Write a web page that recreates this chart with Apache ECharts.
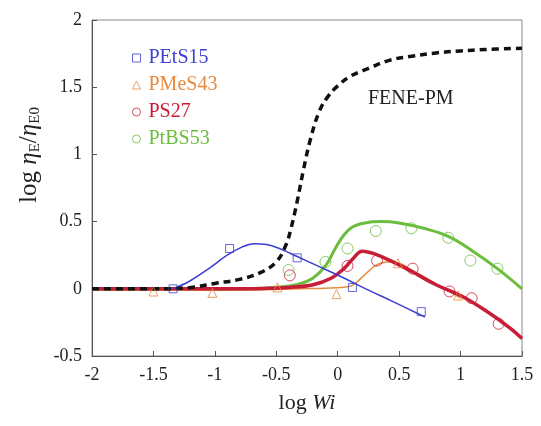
<!DOCTYPE html>
<html>
<head>
<meta charset="utf-8">
<script src="https://cdn.jsdelivr.net/npm/echarts@6/dist/echarts.min.js"></script>
<style>
html,body{margin:0;padding:0;background:#fff;}
#c{width:541px;height:426px;}
</style>
</head>
<body>
<div id="c"></div>
<script>
// ---- data ----
const xTicks = [-2, -1.5, -1, -0.5, 0, 0.5, 1, 1.5];
const yTicks = [-0.5, 0, 0.5, 1, 1.5, 2];

const petsX = [-1.34, -0.88, -0.33, 0.12, 0.68];
const petsY = [0.0, 0.30, 0.23, 0.01, -0.17];
const petsFitX = [-1.34, -1.2, -1.05, -0.9, -0.78, -0.68, -0.58, -0.45, -0.33, -0.15, 0.05, 0.25, 0.45, 0.71];
const petsFitY = [0.0, 0.06, 0.15, 0.25, 0.31, 0.335, 0.33, 0.29, 0.24, 0.165, 0.08, -0.01, -0.095, -0.21];

const pmesX = [-1.5, -1.02, -0.49, -0.01, 0.49, 0.98];
const pmesY = [-0.02, -0.03, 0.01, -0.04, 0.19, -0.05];
const pmesFitX = [-2, -1.5, -1, -0.5, -0.3, -0.1, 0.05, 0.12, 0.18, 0.25, 0.32, 0.4, 0.5, 0.6, 0.7, 0.85, 1.0];
const pmesFitY = [-0.01, -0.01, -0.01, -0.005, 0.0, 0.005, 0.012, 0.025, 0.07, 0.13, 0.18, 0.2, 0.19, 0.14, 0.09, 0.01, -0.07];

const ps27X = [-0.39, 0.08, 0.32, 0.61, 0.91, 1.09, 1.31];
const ps27Y = [0.10, 0.17, 0.21, 0.15, -0.02, -0.07, -0.26];
const ps27FitX = [-2, -1, -0.6, -0.4, -0.2, -0.05, 0.05, 0.12, 0.2, 0.3, 0.45, 0.6, 0.8, 1.0, 1.2, 1.4, 1.5];
const ps27FitY = [0, 0, 0.003, 0.01, 0.03, 0.08, 0.15, 0.22, 0.28, 0.26, 0.2, 0.13, 0.03, -0.05, -0.16, -0.29, -0.37];

const ptbsX = [-0.40, -0.10, 0.08, 0.31, 0.60, 0.90, 1.08, 1.30];
const ptbsY = [0.14, 0.20, 0.30, 0.43, 0.45, 0.38, 0.21, 0.15];
const ptbsFitX = [-2, -1, -0.6, -0.45, -0.3, -0.2, -0.1, -0.02, 0.05, 0.12, 0.22, 0.35, 0.5, 0.7, 0.9, 1.1, 1.3, 1.5];
const ptbsFitY = [0, 0, 0.005, 0.015, 0.04, 0.08, 0.17, 0.3, 0.4, 0.46, 0.49, 0.5, 0.49, 0.45, 0.39, 0.28, 0.15, 0.0];

const feneX = [-2, -1.5, -1.2, -1.0, -0.8, -0.63, -0.5, -0.42, -0.38, -0.33, -0.28, -0.22, -0.15, -0.08, 0.0, 0.1, 0.25, 0.42, 0.6, 0.8, 1.0, 1.2, 1.5];
const feneY = [0, 0, 0.01, 0.04, 0.07, 0.12, 0.2, 0.33, 0.45, 0.65, 0.88, 1.12, 1.32, 1.43, 1.51, 1.58, 1.64, 1.70, 1.73, 1.755, 1.77, 1.78, 1.79];

const names = ['PEtS15', 'PMeS43', 'PS27', 'PtBS53'];
// ---------------------------------------

const pair = (xs, ys) => xs.map((x, i) => [x, ys[i]]);
const C = { blue: '#3c3fd0', orange: '#e88a3e', red: '#c81d36', green: '#6cbd3e' };
const font = 'Liberation Serif, Times New Roman, serif';
const clear = 'rgba(255,255,255,0)';

const chart = echarts.init(document.getElementById('c'), null, { renderer: 'canvas' });

function scatter(name, xs, ys, sym, size, col) {
  return {
    type: 'scatter', name: name, data: pair(xs, ys), symbol: sym, symbolSize: size, z: 5,
    itemStyle: { color: clear, borderColor: col, borderWidth: 1 }
  };
}
function fit(name, xs, ys, col, w, extra) {
  return Object.assign({
    type: 'line', name: name, data: pair(xs, ys), smooth: 0.4, showSymbol: false, symbol: 'none',
    lineStyle: { color: col, width: w }, itemStyle: { color: col }, z: 3
  }, extra || {});
}

chart.setOption({
  animation: false,
  backgroundColor: '#fff',
  grid: { left: 92, right: 19, top: 20, bottom: 70, show: true, borderColor: '#888', borderWidth: 1, backgroundColor: 'transparent' },
  legend: {
    orient: 'vertical', left: 127, top: 43, itemWidth: 8, itemHeight: 8, itemGap: 7,
    selectedMode: false,
    textStyle: { fontFamily: font, fontSize: 20, padding: [0, 0, 0, 3] },
    data: [
      { name: names[0], icon: 'rect', itemStyle: { color: clear, borderColor: C.blue, borderWidth: 1 }, textStyle: { color: C.blue } },
      { name: names[1], icon: 'triangle', itemStyle: { color: clear, borderColor: C.orange, borderWidth: 1 }, textStyle: { color: C.orange } },
      { name: names[2], icon: 'circle', itemStyle: { color: clear, borderColor: C.red, borderWidth: 1 }, textStyle: { color: C.red } },
      { name: names[3], icon: 'circle', itemStyle: { color: clear, borderColor: C.green, borderWidth: 1 }, textStyle: { color: C.green } }
    ]
  },
  xAxis: {
    type: 'value', min: xTicks[0], max: xTicks[xTicks.length - 1], interval: 0.5,
    name: '{n|log }{i|Wi}', nameLocation: 'middle', nameGap: 36,
    nameTextStyle: { rich: { n: { fontFamily: font, fontSize: 22, color: '#222' }, i: { fontFamily: font, fontSize: 22, fontStyle: 'italic', color: '#222' } } },
    axisLine: { show: true, onZero: false, lineStyle: { color: '#555', width: 1 } },
    axisTick: { show: true, inside: true, length: 5, lineStyle: { color: '#555' } },
    axisLabel: { fontFamily: font, fontSize: 18, color: '#222', margin: 10 },
    splitLine: { show: false }
  },
  yAxis: {
    type: 'value', min: yTicks[0], max: yTicks[yTicks.length - 1], interval: 0.5,
    name: '{n|log }{i|η}{s|E}{n|/}{i|η}{s|E0}', nameLocation: 'middle', nameGap: 44, nameRotate: 90,
    nameTextStyle: {
      padding: [0, 0, 0, 66],
      rich: {
        n: { fontFamily: font, fontSize: 25, color: '#222' },
        i: { fontFamily: font, fontSize: 25, fontStyle: 'italic', color: '#222' },
        s: { fontFamily: font, fontSize: 15, color: '#222', padding: [12, 0, 0, 0] }
      }
    },
    axisLine: { show: true, onZero: false, lineStyle: { color: '#555', width: 1 } },
    axisTick: { show: true, inside: true, length: 5, lineStyle: { color: '#555' } },
    axisLabel: { fontFamily: font, fontSize: 18, color: '#222', margin: 10 },
    splitLine: { show: false }
  },
  graphic: [{
    type: 'text', left: 368, top: 89, z: 10,
    style: { text: 'FENE-PM', fontFamily: font, fontSize: 20, fill: '#222' }
  }],
  series: [
    scatter(names[0], petsX, petsY, 'rect', 8, C.blue),
    scatter(names[1], pmesX, pmesY, 'triangle', 9, C.orange),
    scatter(names[2], ps27X, ps27Y, 'circle', 11, C.red),
    scatter(names[3], ptbsX, ptbsY, 'circle', 11, C.green),
    fit(names[1], pmesFitX, pmesFitY, C.orange, 1.5),
    fit(names[3], ptbsFitX, ptbsFitY, C.green, 3),
    fit(names[2], ps27FitX, ps27FitY, C.red, 3.5),
    fit(names[0], petsFitX, petsFitY, C.blue, 1.5),
    fit('FENE-PM', feneX, feneY, '#111', 3.5, { lineStyle: { color: '#111', width: 3.5, type: [7, 5] }, z: 4 })
  ]
});
</script>
</body>
</html>
